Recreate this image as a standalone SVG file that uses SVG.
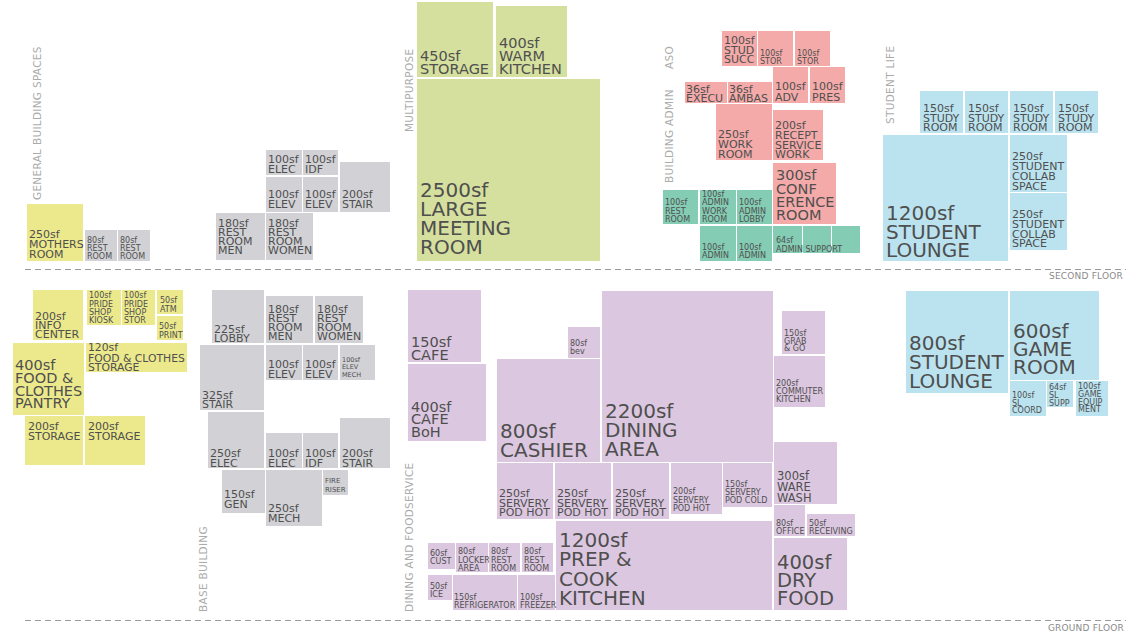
<svg xmlns="http://www.w3.org/2000/svg" width="1135" height="635" viewBox="0 0 1135 635">
<style>
.y{fill:#ece98c}.g{fill:#d2d2d6}.gr{fill:#d5df9e}.p{fill:#f4aaa9}.t{fill:#84ccb3}.b{fill:#bbe3ef}.v{fill:#dcc7e0}
text{font-family:"DejaVu Sans",sans-serif;fill:#4f4f4f}
.xl{font-size:20px}.l{font-size:14.5px}.m{font-size:11px}.s{font-size:8px}.xs{font-size:6.5px}
.sec{font-size:10.5px;fill:#ababab;letter-spacing:0.3px}
.fl{font-size:9px;fill:#8a8a8a;letter-spacing:0.2px}
.dash{stroke:#9a9a9a;stroke-width:1.2;stroke-dasharray:6 4;fill:none}
</style>
<rect width="1135" height="635" fill="#fff"/>

<g id="floors">
<line class="dash" x1="25" y1="269.5" x2="1126" y2="269.5"/>
<line class="dash" x1="25" y1="620.5" x2="1126" y2="620.5"/>
<text class="fl" x="1123" y="279" text-anchor="end">SECOND FLOOR</text>
<text class="fl" x="1124" y="631" text-anchor="end">GROUND FLOOR</text>
</g>

<g id="section-labels">
<text class="sec" transform="translate(41,200) rotate(-90)">GENERAL BUILDING SPACES</text>
<text class="sec" transform="translate(413,132) rotate(-90)">MULTIPURPOSE</text>
<text class="sec" transform="translate(673,183) rotate(-90)">BUILDING ADMIN</text>
<text class="sec" transform="translate(673,69) rotate(-90)">ASO</text>
<text class="sec" transform="translate(894,124) rotate(-90)">STUDENT LIFE</text>
<text class="sec" transform="translate(207,612) rotate(-90)">BASE BUILDING</text>
<text class="sec" transform="translate(413,612) rotate(-90)">DINING AND FOODSERVICE</text>
</g>

<g id="connectors"/>

<!-- SECOND FLOOR: general -->
<g id="mothers-room"><rect class="y" x="27" y="204" width="56" height="57"/><text class="m"><tspan x="29" y="238">250sf</tspan><tspan x="29" y="248">MOTHERS</tspan><tspan x="29" y="258">ROOM</tspan></text></g>
<g id="rest-room-2a"><rect class="g" x="85" y="230" width="32" height="31"/><text class="s"><tspan x="87" y="243">80sf</tspan><tspan x="87" y="251">REST</tspan><tspan x="87" y="259">ROOM</tspan></text></g>
<g id="rest-room-2b"><rect class="g" x="118" y="230" width="32" height="31"/><text class="s"><tspan x="120" y="243">80sf</tspan><tspan x="120" y="251">REST</tspan><tspan x="120" y="259">ROOM</tspan></text></g>

<!-- SECOND FLOOR: base building -->
<g id="elec-2"><rect class="g" x="266" y="150" width="36" height="25"/><text class="m"><tspan x="268" y="163">100sf</tspan><tspan x="268" y="173">ELEC</tspan></text></g>
<g id="idf-2"><rect class="g" x="303" y="150" width="35" height="25"/><text class="m"><tspan x="305" y="163">100sf</tspan><tspan x="305" y="173">IDF</tspan></text></g>
<g id="elev-2a"><rect class="g" x="266" y="177" width="36" height="35"/><text class="m"><tspan x="268" y="198">100sf</tspan><tspan x="268" y="208">ELEV</tspan></text></g>
<g id="elev-2b"><rect class="g" x="303" y="177" width="35" height="35"/><text class="m"><tspan x="305" y="198">100sf</tspan><tspan x="305" y="208">ELEV</tspan></text></g>
<g id="stair-2"><rect class="g" x="340" y="162" width="50" height="50"/><text class="m"><tspan x="342" y="198">200sf</tspan><tspan x="342" y="208">STAIR</tspan></text></g>
<g id="rr-men-2"><rect class="g" x="216" y="213" width="49" height="47"/><text class="m"><tspan x="218" y="227">180sf</tspan><tspan x="218" y="236">REST</tspan><tspan x="218" y="245">ROOM</tspan><tspan x="218" y="254">MEN</tspan></text></g>
<g id="rr-women-2"><rect class="g" x="266" y="213" width="47" height="47"/><text class="m"><tspan x="268" y="227">180sf</tspan><tspan x="268" y="236">REST</tspan><tspan x="268" y="245">ROOM</tspan><tspan x="268" y="254">WOMEN</tspan></text></g>

<!-- SECOND FLOOR: multipurpose -->
<g id="storage-450"><rect class="gr" x="417" y="2" width="76" height="75"/><text class="l"><tspan x="420" y="61">450sf</tspan><tspan x="420" y="74">STORAGE</tspan></text></g>
<g id="warm-kitchen"><rect class="gr" x="496" y="6" width="71" height="71"/><text class="l"><tspan x="499" y="48">400sf</tspan><tspan x="499" y="61">WARM</tspan><tspan x="499" y="74">KITCHEN</tspan></text></g>
<g id="large-meeting"><rect class="gr" x="417" y="79" width="183" height="182"/><text class="xl"><tspan x="420" y="197">2500sf</tspan><tspan x="420" y="216">LARGE</tspan><tspan x="420" y="235">MEETING</tspan><tspan x="420" y="254">ROOM</tspan></text></g>

<!-- SECOND FLOOR: ASO / admin -->
<g id="stud-succ"><rect class="p" x="722" y="31" width="35" height="35"/><text class="m"><tspan x="724" y="44">100sf</tspan><tspan x="724" y="53.5">STUD</tspan><tspan x="724" y="63">SUCC</tspan></text></g>
<g id="stor-a"><rect class="p" x="758" y="31" width="35" height="35"/><text class="s"><tspan x="760" y="56">100sf</tspan><tspan x="760" y="64">STOR</tspan></text></g>
<g id="stor-b"><rect class="p" x="795" y="31" width="35" height="35"/><text class="s"><tspan x="797" y="56">100sf</tspan><tspan x="797" y="64">STOR</tspan></text></g>
<g id="adv"><rect class="p" x="773" y="67" width="35" height="36"/><text class="m"><tspan x="775" y="90">100sf</tspan><tspan x="775" y="101">ADV</tspan></text></g>
<g id="pres"><rect class="p" x="810" y="67" width="35" height="36"/><text class="m"><tspan x="812" y="90">100sf</tspan><tspan x="812" y="101">PRES</tspan></text></g>
<g id="execu"><rect class="p" x="685" y="82" width="42" height="21"/><text class="m"><tspan x="686" y="93">36sf</tspan><tspan x="686" y="102">EXECU</tspan></text></g>
<g id="ambas"><rect class="p" x="728" y="82" width="44" height="21"/><text class="m"><tspan x="729" y="93">36sf</tspan><tspan x="729" y="102">AMBAS</tspan></text></g>
<g id="work-room"><rect class="p" x="716" y="104" width="56" height="56"/><text class="m"><tspan x="718" y="138">250sf</tspan><tspan x="718" y="148">WORK</tspan><tspan x="718" y="158">ROOM</tspan></text></g>
<g id="recept"><rect class="p" x="773" y="110" width="50" height="50"/><text class="m"><tspan x="775" y="129">200sf</tspan><tspan x="775" y="139">RECEPT</tspan><tspan x="775" y="148.5">SERVICE</tspan><tspan x="775" y="158">WORK</tspan></text></g>
<g id="conference"><rect class="p" x="773" y="163" width="63" height="61"/><text class="l"><tspan x="776" y="180">300sf</tspan><tspan x="776" y="193.5">CONF</tspan><tspan x="776" y="207">ERENCE</tspan><tspan x="776" y="220">ROOM</tspan></text></g>
<g id="admin-rest"><rect class="t" x="663" y="190" width="35" height="34"/><text class="s"><tspan x="665" y="205">100sf</tspan><tspan x="665" y="213.5">REST</tspan><tspan x="665" y="222">ROOM</tspan></text></g>
<g id="admin-work"><rect class="t" x="700" y="190" width="36" height="34"/><text class="s"><tspan x="702" y="197">100sf</tspan><tspan x="702" y="205">ADMIN</tspan><tspan x="702" y="213.5">WORK</tspan><tspan x="702" y="222">ROOM</tspan></text></g>
<g id="admin-lobby"><rect class="t" x="737" y="190" width="35" height="34"/><text class="s"><tspan x="739" y="205">100sf</tspan><tspan x="739" y="213.5">ADMIN</tspan><tspan x="739" y="222">LOBBY</tspan></text></g>
<g id="admin-a"><rect class="t" x="700" y="226" width="36" height="35"/><text class="s"><tspan x="702" y="250">100sf</tspan><tspan x="702" y="258">ADMIN</tspan></text></g>
<g id="admin-b"><rect class="t" x="737" y="226" width="35" height="35"/><text class="s"><tspan x="739" y="250">100sf</tspan><tspan x="739" y="258">ADMIN</tspan></text></g>
<g id="admin-support"><rect class="t" x="773" y="226" width="29" height="27"/><rect class="t" x="803" y="226" width="28" height="27"/><rect class="t" x="832" y="226" width="28" height="27"/><text class="s"><tspan x="776" y="243">64sf</tspan><tspan x="776" y="251.5">ADMIN SUPPORT</tspan></text></g>

<!-- SECOND FLOOR: student life -->
<g id="study-1"><rect class="b" x="920" y="91" width="43" height="42"/><text class="m"><tspan x="923" y="112">150sf</tspan><tspan x="923" y="121.5">STUDY</tspan><tspan x="923" y="131">ROOM</tspan></text></g>
<g id="study-2"><rect class="b" x="965" y="91" width="43" height="42"/><text class="m"><tspan x="968" y="112">150sf</tspan><tspan x="968" y="121.5">STUDY</tspan><tspan x="968" y="131">ROOM</tspan></text></g>
<g id="study-3"><rect class="b" x="1010" y="91" width="43" height="42"/><text class="m"><tspan x="1013" y="112">150sf</tspan><tspan x="1013" y="121.5">STUDY</tspan><tspan x="1013" y="131">ROOM</tspan></text></g>
<g id="study-4"><rect class="b" x="1055" y="91" width="43" height="42"/><text class="m"><tspan x="1058" y="112">150sf</tspan><tspan x="1058" y="121.5">STUDY</tspan><tspan x="1058" y="131">ROOM</tspan></text></g>
<g id="student-lounge-1200"><rect class="b" x="883" y="135" width="125" height="126"/><text class="xl"><tspan x="886" y="220">1200sf</tspan><tspan x="886" y="238.5">STUDENT</tspan><tspan x="886" y="257">LOUNGE</tspan></text></g>
<g id="collab-1"><rect class="b" x="1010" y="135" width="57" height="57"/><text class="m"><tspan x="1012" y="160">250sf</tspan><tspan x="1012" y="170">STUDENT</tspan><tspan x="1012" y="180">COLLAB</tspan><tspan x="1012" y="189.5">SPACE</tspan></text></g>
<g id="collab-2"><rect class="b" x="1010" y="193" width="57" height="57"/><text class="m"><tspan x="1012" y="218">250sf</tspan><tspan x="1012" y="228">STUDENT</tspan><tspan x="1012" y="237.5">COLLAB</tspan><tspan x="1012" y="247">SPACE</tspan></text></g>

<!-- GROUND FLOOR: general -->
<g id="info-center"><rect class="y" x="33" y="290" width="50" height="50"/><text class="m"><tspan x="35" y="319.5">200sf</tspan><tspan x="35" y="329">INFO</tspan><tspan x="35" y="338">CENTER</tspan></text></g>
<g id="pride-kiosk"><rect class="y" x="87" y="290" width="34" height="35"/><text class="s"><tspan x="89" y="298">100sf</tspan><tspan x="89" y="306.5">PRIDE</tspan><tspan x="89" y="315">SHOP</tspan><tspan x="89" y="323">KIOSK</tspan></text></g>
<g id="pride-stor"><rect class="y" x="122" y="290" width="33" height="35"/><text class="s"><tspan x="124" y="298">100sf</tspan><tspan x="124" y="306.5">PRIDE</tspan><tspan x="124" y="315">SHOP</tspan><tspan x="124" y="323">STOR</tspan></text></g>
<g id="atm"><rect class="y" x="157" y="290" width="26" height="24"/><text class="s"><tspan x="160" y="303">50sf</tspan><tspan x="160" y="311.5">ATM</tspan></text></g>
<g id="print"><rect class="y" x="157" y="316" width="26" height="24"/><text class="s"><tspan x="159" y="329">50sf</tspan><tspan x="159" y="338">PRINT</tspan></text></g>
<g id="pantry"><rect class="y" x="13" y="343" width="71" height="72"/><text class="l"><tspan x="15" y="370">400sf</tspan><tspan x="15" y="383">FOOD &amp;</tspan><tspan x="15" y="395.5">CLOTHES</tspan><tspan x="15" y="408">PANTRY</tspan></text></g>
<g id="fc-storage"><rect class="y" x="86" y="343" width="101" height="29"/><text class="m" style="font-size:10.8px"><tspan x="88" y="351">120sf</tspan><tspan x="88" y="361.5">FOOD &amp; CLOTHES</tspan><tspan x="88" y="371">STORAGE</tspan></text></g>
<g id="storage-a"><rect class="y" x="25" y="416" width="58" height="49"/><text class="m"><tspan x="28" y="430">200sf</tspan><tspan x="28" y="439.5">STORAGE</tspan></text></g>
<g id="storage-b"><rect class="y" x="85" y="416" width="60" height="49"/><text class="m"><tspan x="88" y="430">200sf</tspan><tspan x="88" y="439.5">STORAGE</tspan></text></g>

<!-- GROUND FLOOR: base building -->
<g id="lobby"><rect class="g" x="212" y="290" width="52" height="53"/><text class="m"><tspan x="214" y="333">225sf</tspan><tspan x="214" y="342">LOBBY</tspan></text></g>
<g id="rr-men-1"><rect class="g" x="266" y="296" width="47" height="47"/><text class="m"><tspan x="268" y="313">180sf</tspan><tspan x="268" y="322">REST</tspan><tspan x="268" y="331">ROOM</tspan><tspan x="268" y="340">MEN</tspan></text></g>
<g id="rr-women-1"><rect class="g" x="315" y="296" width="48" height="47"/><text class="m"><tspan x="317" y="313">180sf</tspan><tspan x="317" y="322">REST</tspan><tspan x="317" y="331">ROOM</tspan><tspan x="317" y="340">WOMEN</tspan></text></g>
<g id="stair-325"><rect class="g" x="200" y="345" width="64" height="65"/><text class="m"><tspan x="202" y="399">325sf</tspan><tspan x="202" y="408">STAIR</tspan></text></g>
<g id="elev-1a"><rect class="g" x="266" y="345" width="36" height="35"/><text class="m"><tspan x="268" y="368">100sf</tspan><tspan x="268" y="377.5">ELEV</tspan></text></g>
<g id="elev-1b"><rect class="g" x="303" y="345" width="35" height="35"/><text class="m"><tspan x="305" y="368">100sf</tspan><tspan x="305" y="377.5">ELEV</tspan></text></g>
<g id="elev-mech"><rect class="g" x="340" y="345" width="35" height="35"/><text class="xs"><tspan x="342" y="362">100sf</tspan><tspan x="342" y="369">ELEV</tspan><tspan x="342" y="377">MECH</tspan></text></g>
<g id="elec-250"><rect class="g" x="208" y="412" width="56" height="56"/><text class="m"><tspan x="210" y="457">250sf</tspan><tspan x="210" y="466.5">ELEC</tspan></text></g>
<g id="elec-100"><rect class="g" x="266" y="433" width="36" height="35"/><text class="m"><tspan x="268" y="457">100sf</tspan><tspan x="268" y="466.5">ELEC</tspan></text></g>
<g id="idf-1"><rect class="g" x="303" y="433" width="35" height="35"/><text class="m"><tspan x="305" y="457">100sf</tspan><tspan x="305" y="466.5">IDF</tspan></text></g>
<g id="stair-200"><rect class="g" x="340" y="418" width="50" height="50"/><text class="m"><tspan x="342" y="457">200sf</tspan><tspan x="342" y="466.5">STAIR</tspan></text></g>
<g id="gen"><rect class="g" x="222" y="470" width="43" height="43"/><text class="m"><tspan x="224" y="498">150sf</tspan><tspan x="224" y="507.5">GEN</tspan></text></g>
<g id="mech"><rect class="g" x="266" y="470" width="56" height="56"/><text class="m"><tspan x="268" y="512">250sf</tspan><tspan x="268" y="521.5">MECH</tspan></text></g>
<g id="fire-riser"><rect class="g" x="323" y="470" width="25" height="25"/><text class="xs" style="font-size:7px"><tspan x="325" y="483">FIRE</tspan><tspan x="325" y="492">RISER</tspan></text></g>

<!-- GROUND FLOOR: dining -->
<g id="cafe"><rect class="v" x="408" y="290" width="73" height="72"/><text class="l"><tspan x="411" y="347">150sf</tspan><tspan x="411" y="359.5">CAFE</tspan></text></g>
<g id="cafe-boh"><rect class="v" x="408" y="364" width="78" height="77"/><text class="l"><tspan x="411" y="411.5">400sf</tspan><tspan x="411" y="424">CAFE</tspan><tspan x="411" y="436.5">BoH</tspan></text></g>
<g id="bev"><rect class="v" x="568" y="327" width="32" height="31"/><text class="s"><tspan x="570" y="346">80sf</tspan><tspan x="570" y="354">bev</tspan></text></g>
<g id="cashier"><rect class="v" x="497" y="359" width="103" height="103"/><text class="xl"><tspan x="500" y="438">800sf</tspan><tspan x="500" y="457">CASHIER</tspan></text></g>
<g id="dining-area"><rect class="v" x="602" y="291" width="171" height="171"/><text class="xl"><tspan x="605" y="418">2200sf</tspan><tspan x="605" y="437">DINING</tspan><tspan x="605" y="456">AREA</tspan></text></g>
<g id="grab-go"><rect class="v" x="782" y="311" width="43" height="43"/><text class="s"><tspan x="784" y="336">150sf</tspan><tspan x="784" y="343.5">GRAB</tspan><tspan x="784" y="351">&amp; GO</tspan></text></g>
<g id="commuter-kitchen"><rect class="v" x="774" y="356" width="51" height="51"/><text class="s"><tspan x="776" y="386">200sf</tspan><tspan x="776" y="394">COMMUTER</tspan><tspan x="776" y="402">KITCHEN</tspan></text></g>
<g id="ware-wash"><rect class="v" x="774" y="442" width="63" height="62"/><text class="m" style="font-size:11.5px"><tspan x="777" y="480">300sf</tspan><tspan x="777" y="490.5">WARE</tspan><tspan x="777" y="501.5">WASH</tspan></text></g>
<g id="pod-1"><rect class="v" x="497" y="463" width="56" height="56"/><text class="m"><tspan x="499" y="497">250sf</tspan><tspan x="499" y="506.5">SERVERY</tspan><tspan x="499" y="516">POD HOT</tspan></text></g>
<g id="pod-2"><rect class="v" x="555" y="463" width="56" height="56"/><text class="m"><tspan x="557" y="497">250sf</tspan><tspan x="557" y="506.5">SERVERY</tspan><tspan x="557" y="516">POD HOT</tspan></text></g>
<g id="pod-3"><rect class="v" x="613" y="463" width="56" height="56"/><text class="m"><tspan x="615" y="497">250sf</tspan><tspan x="615" y="506.5">SERVERY</tspan><tspan x="615" y="516">POD HOT</tspan></text></g>
<g id="pod-4"><rect class="v" x="671" y="463" width="51" height="51"/><text class="s"><tspan x="673" y="494">200sf</tspan><tspan x="673" y="502.5">SERVERY</tspan><tspan x="673" y="510.5">POD HOT</tspan></text></g>
<g id="pod-cold"><rect class="v" x="723" y="463" width="49" height="44"/><text class="s"><tspan x="725" y="487">150sf</tspan><tspan x="725" y="495">SERVERY</tspan><tspan x="725" y="503">POD COLD</tspan></text></g>
<g id="prep-cook"><rect class="v" x="556" y="521" width="216" height="89"/><text class="xl"><tspan x="559" y="547">1200sf</tspan><tspan x="559" y="566">PREP &amp;</tspan><tspan x="559" y="585.5">COOK</tspan><tspan x="559" y="605">KITCHEN</tspan></text></g>
<g id="office"><rect class="v" x="774" y="505" width="31" height="31"/><text class="s"><tspan x="776" y="526">80sf</tspan><tspan x="776" y="534">OFFICE</tspan></text></g>
<g id="receiving"><rect class="v" x="807" y="514" width="48" height="22"/><text class="s"><tspan x="809" y="526">50sf</tspan><tspan x="809" y="534">RECEIVING</tspan></text></g>
<g id="dry-food"><rect class="v" x="774" y="538" width="73" height="72"/><text class="xl" style="font-size:19.5px"><tspan x="777" y="569">400sf</tspan><tspan x="777" y="587">DRY</tspan><tspan x="777" y="604.5">FOOD</tspan></text></g>
<g id="cust"><rect class="v" x="428" y="543" width="27" height="26"/><text class="s"><tspan x="430" y="555.5">60sf</tspan><tspan x="430" y="563.5">CUST</tspan></text></g>
<g id="locker"><rect class="v" x="456" y="543" width="32" height="29"/><text class="s"><tspan x="458" y="554">80sf</tspan><tspan x="458" y="562.5">LOCKER</tspan><tspan x="458" y="571">AREA</tspan></text></g>
<g id="rest-k1"><rect class="v" x="489" y="543" width="31" height="29"/><text class="s"><tspan x="491" y="554">80sf</tspan><tspan x="491" y="562.5">REST</tspan><tspan x="491" y="571">ROOM</tspan></text></g>
<g id="rest-k2"><rect class="v" x="522" y="543" width="31" height="29"/><text class="s"><tspan x="524" y="554">80sf</tspan><tspan x="524" y="562.5">REST</tspan><tspan x="524" y="571">ROOM</tspan></text></g>
<g id="ice"><rect class="v" x="428" y="575" width="24" height="25"/><text class="s"><tspan x="430" y="589">50sf</tspan><tspan x="430" y="597">ICE</tspan></text></g>
<g id="refrigerator"><rect class="v" x="453" y="575" width="64" height="35"/><text class="s"><tspan x="454" y="600">150sf</tspan><tspan x="454" y="608">REFRIGERATOR</tspan></text></g>
<g id="freezer"><rect class="v" x="518" y="575" width="37" height="35"/><text class="s"><tspan x="520" y="600">100sf</tspan><tspan x="520" y="608">FREEZER</tspan></text></g>

<!-- GROUND FLOOR: student life -->
<g id="student-lounge-800"><rect class="b" x="906" y="291" width="102" height="102"/><text class="xl"><tspan x="909" y="350">800sf</tspan><tspan x="909" y="369">STUDENT</tspan><tspan x="909" y="388">LOUNGE</tspan></text></g>
<g id="game-room"><rect class="b" x="1010" y="291" width="89" height="89"/><text class="xl"><tspan x="1013" y="338">600sf</tspan><tspan x="1013" y="356">GAME</tspan><tspan x="1013" y="374">ROOM</tspan></text></g>
<g id="sl-coord"><rect class="b" x="1010" y="381" width="36" height="35"/><text class="s"><tspan x="1012" y="398">100sf</tspan><tspan x="1012" y="405.5">SL</tspan><tspan x="1012" y="413">COORD</tspan></text></g>
<g id="sl-supp"><rect class="b" x="1047" y="381" width="26" height="26"/><text class="s"><tspan x="1049" y="390">64sf</tspan><tspan x="1049" y="398">SL</tspan><tspan x="1049" y="406">SUPP</tspan></text></g>
<g id="game-equip"><rect class="b" x="1076" y="381" width="32" height="35"/><text class="s"><tspan x="1078" y="389">100sf</tspan><tspan x="1078" y="397">GAME</tspan><tspan x="1078" y="404.5">EQUIP</tspan><tspan x="1078" y="412">MENT</tspan></text></g>
</svg>
